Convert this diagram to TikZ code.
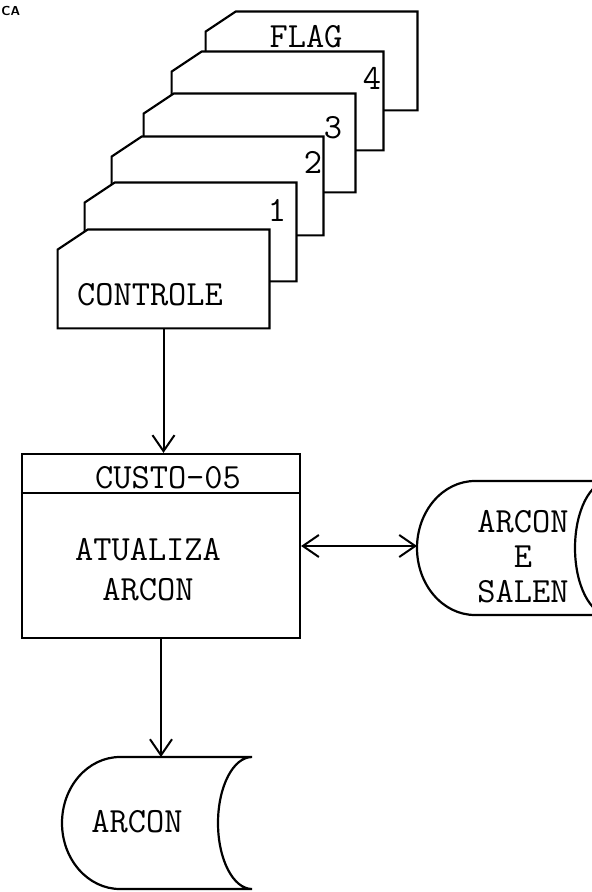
\documentclass[tikz,border=0pt]{standalone}
\usepackage{tikz}
\usetikzlibrary{arrows.meta}

\tikzset{
  card/.style={minimum width=105.5pt, minimum height=49pt, inner sep=0pt},
  tw/.style={font=\ttfamily\fontsize{17.7pt}{17.5pt}\selectfont, inner sep=0pt},
  outline/.style={line width=1.1pt},
  barb/.tip={Straight Barb[length=8pt,width=11pt]},
  flow/.style={line width=1pt, -barb},
}

\begin{document}
\begin{tikzpicture}[x=0.5pt,y=-0.5pt]
  \useasboundingbox (0,0) rectangle (592,892);
  \clip (0,0) rectangle (592,892);

  \node[anchor=west, inner sep=0pt, font=\sffamily\bfseries\fontsize{6.5pt}{7pt}\selectfont] (hdr) at (1,11) {CA};

  \foreach \n/\x/\y/\lx/\ly/\txt in {cflag/311.5/61/306/37/FLAG, c4/277.5/101/372/78/4,
      c3/249.5/143/333/128/3, c2/217.5/186/313/162/2, c1/190.5/232/277/210/1,
      controle/163.5/279/150/295/CONTROLE}
  {
    \node[card] (\n) at (\x,\y) {};
    \draw[outline, fill=white] ([yshift=-10pt]\n.north west) -- ([xshift=15pt]\n.north west)
      -- (\n.north east) -- (\n.south east) -- (\n.south west) -- cycle;
    \node[tw] (\n-txt) at (\lx,\ly) {\txt};
  }

  \node[draw, outline, minimum width=139pt, minimum height=92pt] (proc) at (161,546) {};
  \coordinate (div) at (0,493);
  \draw[outline] (proc.west |- div) -- (proc.east |- div);
  \node[tw] (proc-title) at (168,478) {CUSTO-05};
  \node[tw, align=center, font=\ttfamily\fontsize{17.7pt}{20pt}\selectfont] (proc-txt) at (148,570) {ATUALIZA\\ARCON};

  \draw[outline] (475,481) arc[start angle=270, end angle=90, x radius=58, y radius=67]
    -- (609,615) arc[start angle=90, end angle=270, x radius=34, y radius=67] -- cycle;
  \node[tw, align=center] (arcsal) at (523,557) {ARCON\\E\\SALEN};
  \coordinate (arcsal-w) at (417,546);

  \draw[outline] (120,757) arc[start angle=270, end angle=90, x radius=58, y radius=66]
    -- (252,889) arc[start angle=90, end angle=270, x radius=34, y radius=66] -- cycle;
  \node[tw] (arcon) at (137,822) {ARCON};
  \coordinate (arcon-n) at (161,757);

  \draw[flow] (controle.south) -- (controle.south |- proc.north);
  \draw[flow, barb-barb] (proc.east) -- (arcsal-w);
  \draw[flow] (proc.south) -- (proc.south |- arcon-n);
\end{tikzpicture}
\end{document}
